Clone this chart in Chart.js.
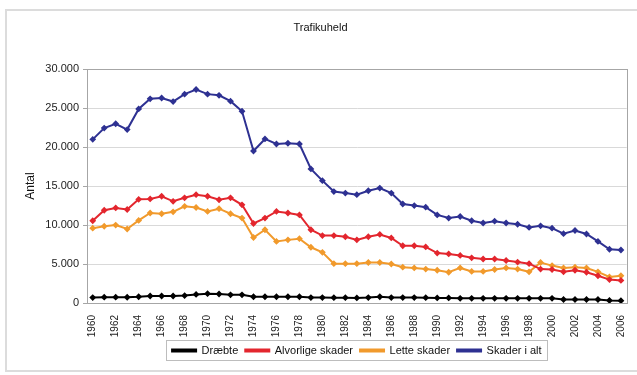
<!DOCTYPE html>
<html>
<head>
<meta charset="utf-8">
<script src="https://cdn.jsdelivr.net/npm/chart.js@4/dist/chart.umd.min.js"></script>
<style>
  html, body { margin: 0; padding: 0; background: #fff; }
  #wrap { width: 637px; height: 375px; }
</style>
</head>
<body>
<div id="wrap"><canvas id="trafikChart" width="637" height="375"></canvas></div>
<script>
// years 1960-2006
const years = [];
for (let y = 1960; y <= 2006; y++) years.push(String(y));

const draebte = [
  700, 750, 750, 740, 800, 900, 900, 900, 950, 1100, 1200,
  1150, 1050, 1050, 800, 800, 800, 800, 800, 700, 700,
  680, 680, 650, 700, 800, 700, 700, 700, 680, 650,
  650, 600, 600, 600, 600, 600, 600, 600, 600, 600,
  450, 450, 450, 450, 320, 300
];
const alvorlige = [
  10550, 11900, 12200, 12000, 13300, 13350, 13700, 13050, 13500, 13900, 13700,
  13250, 13500, 12600, 10200, 10900, 11750, 11550, 11300, 9400, 8650,
  8650, 8500, 8100, 8500, 8800, 8350, 7350, 7350, 7200, 6400,
  6300, 6100, 5800, 5650, 5650, 5450, 5250, 5050, 4350, 4300,
  4000, 4200, 3950, 3500, 3000, 2900
];
const lette = [
  9600, 9850, 10000, 9500, 10600, 11550, 11450, 11700, 12400, 12250, 11750,
  12100, 11450, 10900, 8400, 9400, 7900, 8100, 8250, 7150, 6500,
  5050, 5050, 5050, 5200, 5200, 5000, 4600, 4500, 4350, 4200,
  3950, 4500, 4050, 4050, 4300, 4500, 4350, 4000, 5200, 4800,
  4500, 4600, 4500, 4000, 3350, 3500
];
const skaderIAlt = [
  21000, 22450, 23000, 22250, 24900, 26200, 26300, 25850, 26800, 27400, 26800,
  26650, 25900, 24600, 19500, 21050, 20400, 20500, 20400, 17200, 15700,
  14300, 14100, 13900, 14400, 14750, 14100, 12700, 12500, 12300, 11300,
  10900, 11100, 10550, 10270, 10500, 10270, 10100, 9700, 9900, 9600,
  8900, 9300, 8850, 7900, 6900, 6800
];
const yTicks = [0, 5000, 10000, 15000, 20000, 25000, 30000];

const fmt = (v) => String(v).replace(/\B(?=(\d{3})+(?!\d))/g, ".");

function series(label, data, color) {
  return {
    label: label,
    data: data,
    borderColor: color,
    backgroundColor: color,
    borderWidth: 2,
    pointStyle: "rectRot",
    pointRadius: 2,
    pointBackgroundColor: color,
    pointBorderColor: color,
    tension: 0,
  };
}

// frame around the whole chart, box round plot area and legend
const frames = {
  id: "frames",
  afterLayout(chart) {
    // centre the legend under the plot area, like the original
    const a = chart.chartArea;
    const lg = chart.legend;
    const dx = (a.left + a.right) / 2 - (lg.left + lg.right) / 2;
    lg.left += dx;
    lg.right += dx;
  },
  beforeDraw(chart) {
    const c = chart.ctx;
    c.save();
    c.fillStyle = "#fff";
    c.fillRect(0, 0, chart.width, chart.height);
    c.strokeStyle = "#dcdcdc";
    c.lineWidth = 2;
    c.strokeRect(6, 10, chart.width, chart.height - 14);
    c.restore();
  },
  afterDraw(chart) {
    const c = chart.ctx;
    const a = chart.chartArea;
    c.save();
    c.strokeStyle = "#a6a6a6";
    c.lineWidth = 1;
    c.strokeRect(Math.round(a.left) + 0.5, Math.round(a.top) + 0.5,
      Math.round(a.right - a.left), Math.round(a.bottom - a.top));
    const boxes = chart.legend.legendHitBoxes;
    if (boxes && boxes.length) {
      const l = Math.min(...boxes.map((b) => b.left)) - 6;
      const r = Math.max(...boxes.map((b) => b.left + b.width)) + 5;
      const t = Math.min(...boxes.map((b) => b.top)) - 5;
      const bt = Math.max(...boxes.map((b) => b.top + b.height)) + 4;
      c.strokeStyle = "#bdbdbd";
      c.strokeRect(Math.round(l) + 0.5, Math.round(t) + 0.5, Math.round(r - l), Math.round(bt - t));
    }
    c.restore();
  },
};

const ctx = document.getElementById("trafikChart").getContext("2d");
new Chart(ctx, {
  type: "line",
  data: {
    labels: years,
    datasets: [
      series("Dræbte", draebte, "#000000"),
      series("Alvorlige skader", alvorlige, "#e3262e"),
      series("Lette skader", lette, "#f19a2c"),
      series("Skader i alt", skaderIAlt, "#2e3192"),
    ],
  },
  options: {
    responsive: false,
    animation: false,
    layout: { padding: { left: 10, right: 6, top: 21, bottom: 9 } },
    scales: {
      x: {
        type: "category",
        offset: true,
        grid: { display: false },
        border: { display: true, color: "#a6a6a6" },
        afterFit: (scale) => {
          scale.height = 35;
        },
        ticks: {
          autoSkip: false,
          maxRotation: 90,
          minRotation: 90,
          padding: 4,
          color: "#222",
          font: { family: "Liberation Sans", size: 10 },
          callback: (v, i) => (i % 2 === 0 ? years[i] : ""),
        },
      },
      y: {
        min: 0,
        max: 30000,
        afterBuildTicks: (scale) => {
          scale.ticks = yTicks.map((v) => ({ value: v }));
        },
        afterFit: (scale) => {
          scale.width = 77;
        },
        grid: { color: "#d9d9d9", tickLength: 4, tickColor: "#a6a6a6" },
        border: { display: true, color: "#a6a6a6" },
        ticks: {
          padding: 4,
          color: "#222",
          font: { family: "Liberation Sans", size: 11 },
          callback: (v) => fmt(v),
        },
        title: {
          display: true,
          text: "Antal",
          color: "#111",
          font: { family: "Liberation Sans", size: 12 },
          padding: { top: 13, bottom: 0 },
        },
      },
    },
    plugins: {
      title: {
        display: true,
        text: "Trafikuheld",
        color: "#111",
        font: { family: "Liberation Sans", size: 11, weight: "normal" },
        padding: { top: 0, bottom: 35 },
      },
      legend: {
        position: "bottom",
        labels: {
          boxWidth: 24,
          boxHeight: 2,
          padding: 7,
          color: "#111",
          font: { family: "Liberation Sans", size: 11 },
        },
      },
      tooltip: { enabled: false },
    },
  },
  plugins: [frames],
});
</script>
</body>
</html>
